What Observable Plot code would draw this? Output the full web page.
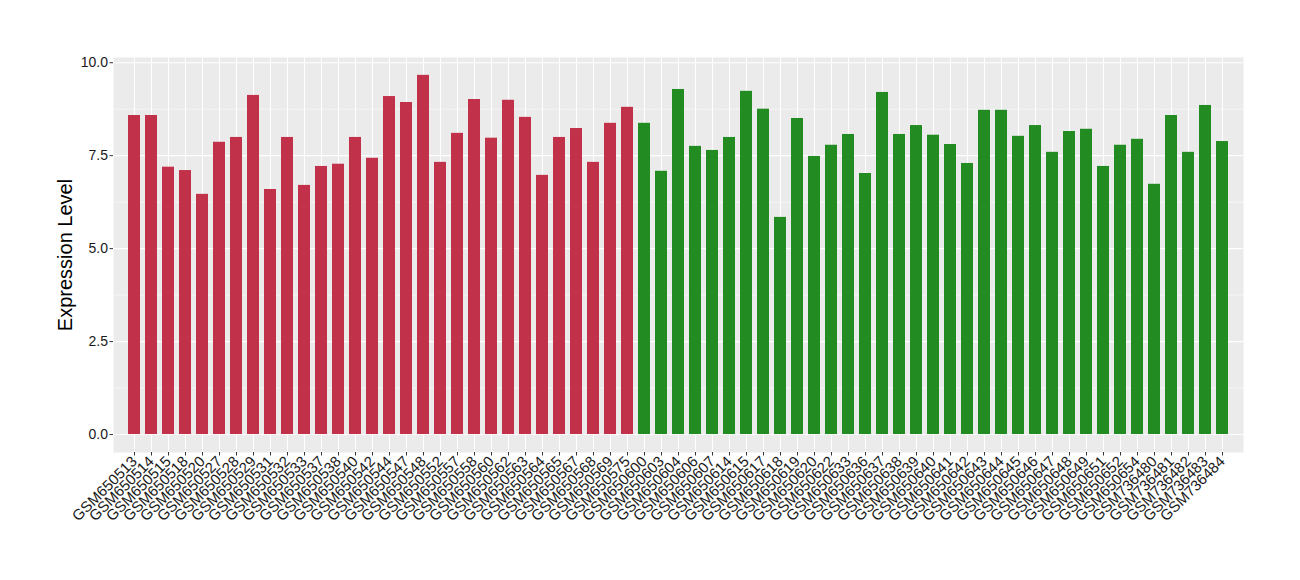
<!DOCTYPE html>
<html>
<head>
<meta charset="utf-8">
<script src="https://cdn.jsdelivr.net/npm/d3@7"></script>
<script src="https://cdn.jsdelivr.net/npm/@observablehq/plot@0.6"></script>
<style>
  html, body { margin: 0; padding: 0; background: #fff; }
  #chart { width: 1300px; height: 580px; }
</style>
</head>
<body>
<div id="chart"></div>
<script>
const samples = [
  "GSM650513","GSM650514","GSM650515","GSM650518","GSM650520","GSM650527","GSM650528","GSM650529",
  "GSM650531","GSM650532","GSM650533","GSM650537","GSM650538","GSM650540","GSM650542","GSM650544",
  "GSM650547","GSM650548","GSM650552","GSM650557","GSM650558","GSM650560","GSM650562","GSM650563",
  "GSM650564","GSM650565","GSM650567","GSM650568","GSM650569","GSM650575",
  "GSM650600","GSM650603","GSM650604","GSM650606","GSM650607","GSM650614","GSM650615","GSM650617",
  "GSM650618","GSM650619","GSM650620","GSM650622","GSM650633","GSM650636","GSM650637","GSM650638",
  "GSM650639","GSM650640","GSM650641","GSM650642","GSM650643","GSM650644","GSM650645","GSM650646",
  "GSM650647","GSM650648","GSM650649","GSM650651","GSM650652","GSM650654",
  "GSM736480","GSM736481","GSM736482","GSM736483","GSM736484"
];
const values = [
  8.58, 8.58, 7.19, 7.10, 6.46, 7.86, 7.99, 9.12,
  6.59, 7.99, 6.70, 7.21, 7.27, 7.99, 7.43, 9.09,
  8.93, 9.66, 7.32, 8.10, 9.01, 7.97, 8.99, 8.53,
  6.97, 7.99, 8.23, 7.32, 8.37, 8.80,
  8.37, 7.08, 9.28, 7.75, 7.64, 7.99, 9.23, 8.75,
  5.84, 8.50, 7.48, 7.78, 8.07, 7.02, 9.20, 8.07,
  8.31, 8.05, 7.80, 7.29, 8.72, 8.72, 8.02, 8.31,
  7.59, 8.15, 8.21, 7.21, 7.78, 7.94,
  6.73, 8.58, 7.59, 8.85, 7.88
];
const groupSizes = [30, 35];
const groupNames = ["Group A", "Group B"];
const groupColors = ["#C1314A", "#228B22"];
const yTicks = [0, 2.5, 5, 7.5, 10];
const yMinor = [1.25, 3.75, 6.25, 8.75];
const yLabel = "Expression Level";

const groups = [];
groupSizes.forEach((n, gi) => { for (let i = 0; i < n; i++) groups.push(groupNames[gi]); });
const data = samples.map((s, i) => ({ sample: s, value: values[i], group: groups[i] }));

const font = "'Liberation Sans', Arial, Helvetica, sans-serif";

const chart = Plot.plot({
  width: 1300,
  height: 580,
  marginLeft: 113,
  marginRight: 57,
  marginTop: 57,
  marginBottom: 128,
  style: { fontFamily: font, background: "white", color: "#1a1a1a" },
  x: { type: "band", domain: samples, paddingInner: 0.3, paddingOuter: 0.25, align: 0.5, label: null },
  y: { domain: [-0.483, 10.14], label: null },
  color: { domain: groupNames, range: groupColors },
  marks: [
    Plot.frame({ fill: "#EBEBEB", stroke: null }),
    Plot.ruleY(yMinor, { stroke: "white", strokeWidth: 0.55 }),
    Plot.ruleY(yTicks, { stroke: "white", strokeWidth: 1.1 }),
    Plot.ruleX(samples, { x: d => d, stroke: "white", strokeWidth: 1.1 }),
    Plot.barY(data, { x: "sample", y: "value", fill: "group" }),
    Plot.axisY({
      ticks: yTicks, tickFormat: d => d.toFixed(1), tickSize: 3.5, tickPadding: 2,
      fontSize: 14, stroke: "#333", label: null
    }),
    Plot.axisX({
      tickRotate: -45, tickSize: 3.5, tickPadding: 3, fontSize: 15, stroke: "#333", label: null
    }),
    Plot.text([yLabel], {
      frameAnchor: "left", dx: -48, rotate: -90, fontSize: 20, fill: "black",
      textAnchor: "middle", text: d => d
    })
  ]
});
document.getElementById("chart").appendChild(chart);
</script>
</body>
</html>
